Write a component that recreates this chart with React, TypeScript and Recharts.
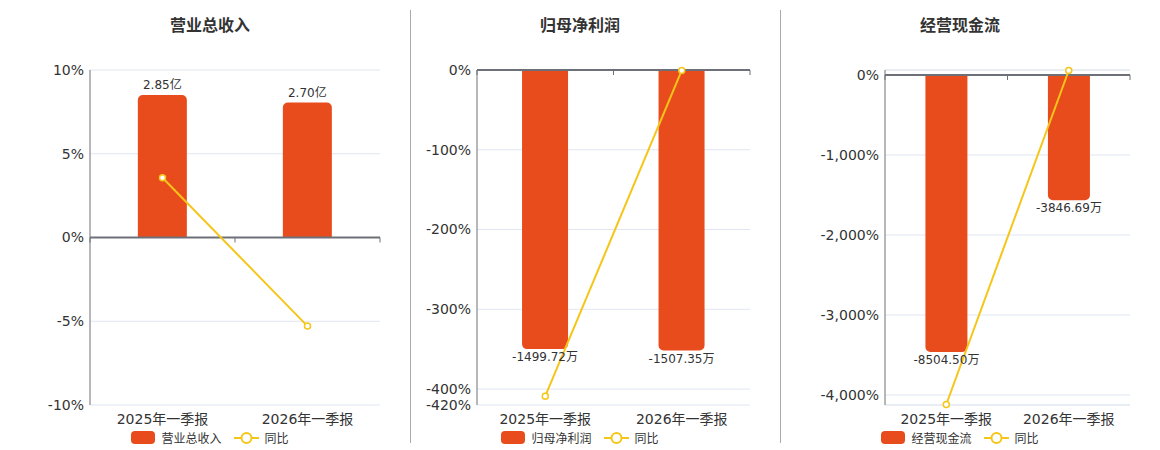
import { ComposedChart, Bar, Line, XAxis, YAxis, CartesianGrid, ReferenceLine, LabelList } from 'recharts'

const categories = ['2025年一季报', '2026年一季报']

const revenueValues = [2.85, 2.7]
const revenueYoy = [3.57, -5.29]
const revenueTicks = [-10, -5, 0, 5, 10]

const profitValues = [-1499.72, -1507.35]
const profitYoy = [-409, -0.5]
const profitTicks = [-420, -400, -300, -200, -100, 0]

const cashValues = [-8504.5, -3846.69]
const cashYoy = [-4119, 56]
const cashTicks = [-4000, -3000, -2000, -1000, 0]

const BAR_COLOR = '#E84C1C'
const LINE_COLOR = '#F5C518'
const AXIS_COLOR = '#6E7079'
const GRID_COLOR = '#E0E6F1'
const FONT = '"DejaVu Sans", "Noto Sans CJK SC", sans-serif'

const fmtPct = (v: number) => `${v.toLocaleString('en-US')}%`

function ZeroAxis(props: any) {
  const { x1, x2, y1 } = props
  const mid = (x1 + x2) / 2
  return (
    <g>
      <line x1={x1} x2={x2} y1={y1} y2={y1} stroke={AXIS_COLOR} strokeWidth={2} />
      {[x1, mid, x2].map((x, i) => (
        <line key={i} x1={x} x2={x} y1={y1} y2={y1 + 5} stroke={AXIS_COLOR} strokeWidth={1} />
      ))}
    </g>
  )
}

function makeLabel(suffix: string) {
  return (props: any) => {
    const { x, y, width, height, value } = props
    const top = Math.min(y, y + height)
    const bottom = Math.max(y, y + height)
    const ty = value < 0 ? bottom + 12 : top - 6
    return (
      <text x={x + width / 2} y={ty} textAnchor="middle" fontSize={12} fill="#333" fontFamily={FONT}>
        {value.toFixed(2)}{suffix}
      </text>
    )
  }
}

interface PanelProps {
  title: string
  values: number[]
  yoy: number[]
  ticks: number[]
  pctDomain: [number, number]
  barDomain: [number, number]
  suffix: string
  left: number
  width: number
  marginLeft: number
  center: number
  edgeLines?: boolean
}

function Panel(p: PanelProps) {
  const data = categories.map((name, i) => ({ name, value: p.values[i], yoy: p.yoy[i] }))
  return (
    <>
      <div style={{ position: 'absolute', left: p.center - 100, width: 200, top: 12, textAlign: 'center', fontSize: 16, fontWeight: 'bold', color: '#333', fontFamily: FONT }}>
        {p.title}
      </div>
      <div style={{ position: 'absolute', left: p.left, top: 0 }}>
        <ComposedChart width={p.width} height={450} data={data} barCategoryGap="33%"
          margin={{ top: 70, right: 20, left: p.marginLeft, bottom: 15 }}>
          <CartesianGrid yAxisId="pct" vertical={false} stroke={GRID_COLOR} />
          <XAxis dataKey="name" axisLine={false} tickLine={false} height={30} tickMargin={3}
            tick={{ fill: '#333', fontSize: 14, fontFamily: FONT }} />
          <YAxis yAxisId="pct" domain={p.pctDomain} ticks={p.ticks} interval={0} width={60}
            tickFormatter={fmtPct} tickLine={false} tickSize={4} tickMargin={2}
            axisLine={{ stroke: AXIS_COLOR }} tick={{ fill: '#333', fontSize: 14, fontFamily: FONT }} />
          <YAxis yAxisId="bar" orientation="right" hide domain={p.barDomain} />
          {p.edgeLines && <ReferenceLine yAxisId="pct" y={p.pctDomain[1]} stroke={GRID_COLOR} />}
          {p.edgeLines && <ReferenceLine yAxisId="pct" y={p.pctDomain[0]} stroke={GRID_COLOR} />}
          <Bar yAxisId="bar" dataKey="value" fill={BAR_COLOR} radius={[5, 5, 0, 0]} isAnimationActive={false}>
            <LabelList dataKey="value" content={makeLabel(p.suffix)} />
          </Bar>
          <ReferenceLine yAxisId="pct" y={0} shape={ZeroAxis} />
          <Line yAxisId="pct" dataKey="yoy" stroke={LINE_COLOR} strokeWidth={2}
            dot={{ r: 3, fill: '#fff', stroke: LINE_COLOR, strokeWidth: 1.5 }} activeDot={false}
            isAnimationActive={false} />
        </ComposedChart>
      </div>
      <div style={{ position: 'absolute', left: p.center - 100, width: 200, top: 429, display: 'flex', justifyContent: 'center', alignItems: 'center', fontSize: 12, color: '#333', fontFamily: FONT }}>
        <span style={{ width: 24, height: 13, borderRadius: 4, background: BAR_COLOR, display: 'inline-block', marginRight: 6 }} />
        <span style={{ marginRight: 12 }}>{p.title}</span>
        <svg width={25} height={14} style={{ marginRight: 6 }}>
          <line x1={0} x2={25} y1={7} y2={7} stroke={LINE_COLOR} strokeWidth={2} />
          <circle cx={12.5} cy={7} r={5} fill="#fff" stroke={LINE_COLOR} strokeWidth={2} />
        </svg>
        <span>同比</span>
      </div>
    </>
  )
}

export default function App() {
  return (
    <div style={{ position: 'absolute', left: 0, top: 0, width: 1160, height: 450, background: '#fff' }}>
      <Panel title="营业总收入" values={revenueValues} yoy={revenueYoy} ticks={revenueTicks}
        pctDomain={[-10, 10]} barDomain={[-3.35, 3.35]} suffix="亿"
        left={0} width={400} marginLeft={30} center={210} />
      <div style={{ position: 'absolute', left: 410, top: 10, height: 433, borderLeft: '1px solid #aaa' }} />
      <Panel title="归母净利润" values={profitValues} yoy={profitYoy} ticks={profitTicks}
        pctDomain={[-420, 0]} barDomain={[-1800, 0]} suffix="万"
        left={410} width={360} marginLeft={7} center={580} />
      <div style={{ position: 'absolute', left: 780, top: 10, height: 433, borderLeft: '1px solid #aaa' }} />
      <Panel title="经营现金流" values={cashValues} yoy={cashYoy} ticks={cashTicks}
        pctDomain={[-4125, 62.5]} barDomain={[-10132, 153.5]} suffix="万"
        left={780} width={370} marginLeft={45} center={960} edgeLines />
    </div>
  )
}
